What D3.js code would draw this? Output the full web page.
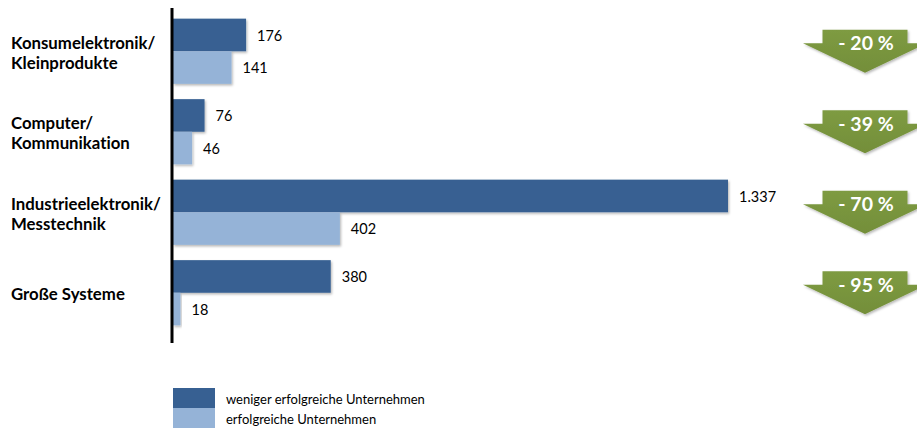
<!DOCTYPE html>
<html>
<head>
<meta charset="utf-8">
<script src="https://cdn.jsdelivr.net/npm/d3@7/dist/d3.min.js"></script>
<style>
  html, body { margin: 0; padding: 0; background: #fff; }
  svg { display: block; font-family: Lato, "Open Sans", sans-serif; font-variant-ligatures: none; font-feature-settings: "liga" 0, "clig" 0; }
</style>
</head>
<body>
<svg id="chart" width="917" height="428"></svg>
<script>
// Product segments (label lines)
const categories = [
  ["Konsumelektronik/", "Kleinprodukte"],
  ["Computer/", "Kommunikation"],
  ["Industrieelektronik/", "Messtechnik"],
  ["Große Systeme"]
];
const seriesNames = ["weniger erfolgreiche Unternehmen", "erfolgreiche Unternehmen"];
const lessSuccessful = [176, 76, 1337, 380];
const successful = [141, 46, 402, 18];
const changeLabels = ["- 20 %", "- 39 %", "- 70 %", "- 95 %"];

const colors = ["#376092", "#95B3D7"];

const svg = d3.select("#chart");
const fmt = d3.formatLocale({ decimal: ",", thousands: ".", grouping: [3], currency: ["", "€"] }).format(",d");

const defs = svg.append("defs");
const shadow = defs.append("filter").attr("id", "shadow")
  .attr("x", "-10%").attr("y", "-10%").attr("width", "130%").attr("height", "140%");
shadow.append("feDropShadow").attr("dx", 1.2).attr("dy", 1.6).attr("stdDeviation", 1)
  .attr("flood-color", "#000").attr("flood-opacity", 0.28);

const grad = defs.append("linearGradient").attr("id", "arrowGrad")
  .attr("x1", 0).attr("y1", 0).attr("x2", 0).attr("y2", 1);
grad.append("stop").attr("offset", "0%").attr("stop-color", "#7E9B42");
grad.append("stop").attr("offset", "100%").attr("stop-color", "#738E39");

const idx = d3.range(categories.length);

const y = d3.scaleBand().domain(idx).range([11, 333]).paddingInner(0.19).paddingOuter(0.095);
const ySub = d3.scaleBand().domain([0, 1]).range([0, y.bandwidth()]);
const x = d3.scaleLinear().domain([0, 1337]).range([173, 728]);

const rows = idx.map(i => [lessSuccessful[i], successful[i]]);

const groups = svg.append("g").selectAll("g").data(rows).join("g")
  .attr("transform", (d, i) => `translate(0,${y(i)})`);

groups.selectAll("rect").data(d => d).join("rect")
  .attr("x", x(0))
  .attr("y", (d, j) => ySub(j))
  .attr("width", d => x(d) - x(0))
  .attr("height", ySub.bandwidth())
  .attr("fill", (d, j) => colors[j])
  .attr("filter", "url(#shadow)");

groups.selectAll("text").data(d => d).join("text")
  .attr("x", d => x(d) + 11)
  .attr("y", (d, j) => ySub(j) + ySub.bandwidth() / 2 + 2)
  .attr("dominant-baseline", "middle")
  .attr("font-size", 14.5)
  .attr("fill", "#000")
  .text(d => fmt(d));

// Vertical axis line
svg.append("line")
  .attr("x1", 172).attr("x2", 172)
  .attr("y1", 8).attr("y2", 343)
  .attr("stroke", "#000").attr("stroke-width", 3);

// Category labels
const cat = svg.append("g").selectAll("text").data(categories).join("text")
  .attr("font-weight", "bold")
  .attr("font-size", 16.8)
  .attr("fill", "#000");
cat.each(function(lines, i) {
  const cy = y(i) + y.bandwidth() / 2;
  const lh = 20;
  const start = cy - (lines.length - 1) * lh / 2 + 7.5;
  d3.select(this).selectAll("tspan").data(lines).join("tspan")
    .attr("x", 11)
    .attr("y", (l, k) => start + k * lh)
    .text(l => l);
});

// Change arrows
const ax = 865;
function arrowPath(cy) {
  const p = d3.path();
  p.moveTo(ax - 42.5, cy - 21.5);
  p.lineTo(ax + 42.5, cy - 21.5);
  p.lineTo(ax + 42.5, cy - 8);
  p.lineTo(ax + 62, cy - 8);
  p.lineTo(ax, cy + 21.5);
  p.lineTo(ax - 62, cy - 8);
  p.lineTo(ax - 42.5, cy - 8);
  p.closePath();
  return p.toString();
}
const arrows = svg.append("g").selectAll("g").data(changeLabels).join("g");
arrows.append("path")
  .attr("d", (d, i) => arrowPath(y(i) + y.bandwidth() / 2))
  .attr("fill", "url(#arrowGrad)")
  .attr("filter", "url(#shadow)");
arrows.append("text")
  .attr("x", ax + 1)
  .attr("y", (d, i) => y(i) + y.bandwidth() / 2 - 0.8)
  .attr("text-anchor", "middle")
  .attr("font-weight", "bold")
  .attr("font-size", 19.5)
  .attr("fill", "#fff")
  .text(d => d);

// Legend
const legend = svg.append("g").selectAll("g").data(seriesNames).join("g")
  .attr("transform", (d, i) => `translate(173,${388 + i * 20})`);
legend.append("rect")
  .attr("width", 42).attr("height", 20)
  .attr("fill", (d, i) => colors[i]);
legend.append("text")
  .attr("x", 53).attr("y", 15.5)
  .attr("font-size", 13)
  .attr("fill", "#000")
  .text(d => d);
</script>
</body>
</html>
